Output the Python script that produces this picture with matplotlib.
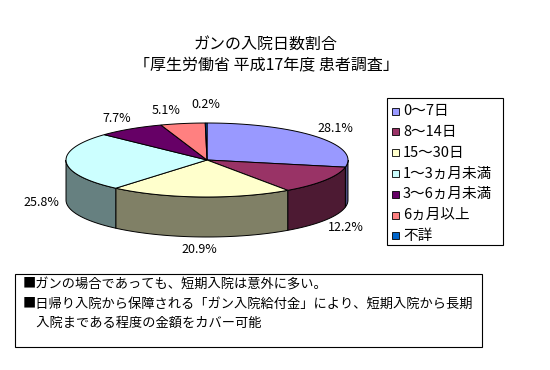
import numpy as np
import matplotlib
matplotlib.use('Agg')
import matplotlib.pyplot as plt
from matplotlib.patches import Polygon, Rectangle

plt.rcParams['font.family'] = ['Noto Sans CJK JP', 'DejaVu Sans']

# data
labels = ['0～7日', '8～14日', '15～30日', '1～3ヵ月未満', '3～6ヵ月未満', '6ヵ月以上', '不詳']
values = [28.1, 12.2, 20.9, 25.8, 7.7, 5.1, 0.2]
colors = ['#9999FF', '#993366', '#FFFFCC', '#CCFFFF', '#660066', '#FF8080', '#0066CC']
title_lines = ['ガンの入院日数割合', '「厚生労働省 平成17年度 患者調査」']
notes = ['■ガンの場合であっても、短期入院は意外に多い。',
         '■日帰り入院から保障される「ガン入院給付金」により、短期入院から長期',
         '　入院まである程度の金額をカバー可能']

fig = plt.figure(figsize=(5.5, 3.7), dpi=100)
ax = fig.add_axes([0, 0, 1, 1])
ax.set_xlim(0, 550)
ax.set_ylim(370, 0)
ax.axis('off')

# 3d pie geometry (pixels)
cx, cy, a, b, depth = 207, 160, 141, 37, 40
fracs = np.array(values) / sum(values)
edges = np.concatenate([[0], np.cumsum(fracs)]) * 2 * np.pi


def arc(t0, t1, dy=0):
    ts = np.linspace(t0, t1, max(int(abs(t1 - t0) * 40), 2))
    return np.column_stack([cx + a * np.sin(ts), cy - b * np.cos(ts) + dy])


def darker(c):
    return np.array(matplotlib.colors.to_rgb(c)) * 0.5


# sides (front half only)
for i in range(len(values)):
    lo = max(edges[i], np.pi / 2)
    hi = min(edges[i + 1], 3 * np.pi / 2)
    if hi > lo:
        top = arc(lo, hi)
        bot = arc(lo, hi, depth)[::-1]
        ax.add_patch(Polygon(np.vstack([top, bot]), closed=True, facecolor=darker(colors[i]),
                             edgecolor='black', lw=0.7, zorder=2))

# top faces
for i in range(len(values)):
    pts = np.vstack([[cx, cy], arc(edges[i], edges[i + 1])])
    ax.add_patch(Polygon(pts, closed=True, facecolor=colors[i], edgecolor='black', lw=0.7, zorder=3))

# percent labels, pushed apart when they crowd
pos = []
for i, v in enumerate(values):
    tm = (edges[i] + edges[i + 1]) / 2
    lx = cx + 166 * np.sin(tm)
    ly = cy - 50 * np.cos(tm)
    if np.cos(tm) < 0:
        ly += depth
    pos.append([lx, ly])
for i in range(len(pos) - 2, -1, -1):
    dx = pos[i + 1][0] - pos[i][0]
    if abs(pos[i + 1][1] - pos[i][1]) < 14 and 0 <= dx < 40:
        pos[i][0] = pos[i + 1][0] - 40
        pos[i + 1][1] -= 6
for (lx, ly), v in zip(pos, values):
    ax.text(lx, ly, '%.1f%%' % v, ha='center', va='center', fontsize=9, zorder=5)

# title
ax.text(266, 45, title_lines[0], ha='center', va='center', fontsize=11.5)
ax.text(266, 65, title_lines[1], ha='center', va='center', fontsize=11.5)

# legend
ax.add_patch(Rectangle((387, 98), 116, 147, facecolor='white', edgecolor='black', lw=0.8))
for i, lab in enumerate(labels):
    y = 111 + i * 20.8
    ax.add_patch(Rectangle((392, y - 3.5), 7, 7, facecolor=colors[i], edgecolor='black', lw=0.6))
    ax.text(403, y, lab, ha='left', va='center', fontsize=10.5)

# note box
ax.add_patch(Rectangle((15, 274), 467, 73, facecolor='white', edgecolor='black', lw=0.8))
for i, line in enumerate(notes):
    ax.text(23, 285 + i * 19, line, ha='left', va='center', fontsize=9.5)

fig.savefig('out.png', dpi=100)
